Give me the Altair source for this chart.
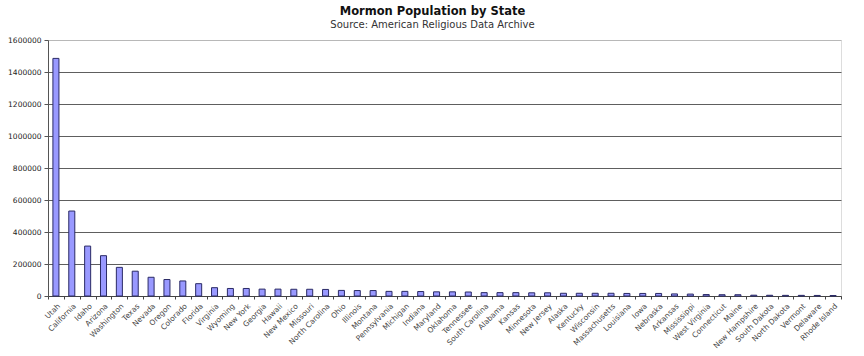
import altair as alt
import pandas as pd

states = ["Utah", "California", "Idaho", "Arizona", "Washington", "Texas", "Nevada", "Oregon",
          "Colorado", "Florida", "Virginia", "Wyoming", "New York", "Georgia", "Hawaii",
          "New Mexico", "Missouri", "North Carolina", "Ohio", "Illinois", "Montana",
          "Pennsylvania", "Michigan", "Indiana", "Maryland", "Oklahoma", "Tennessee",
          "South Carolina", "Alabama", "Kansas", "Minnesota", "New Jersey", "Alaska",
          "Kentucky", "Wisconsin", "Massachusetts", "Louisiana", "Iowa", "Nebraska",
          "Arkansas", "Mississippi", "West Virginia", "Connecticut", "Maine",
          "New Hampshire", "South Dakota", "North Dakota", "Vermont", "Delaware",
          "Rhode Island"]
population = [1485000, 531000, 312000, 252000, 179000, 155000, 117000, 103000,
              94000, 77000, 52000, 47000, 47000, 43000, 43000,
              42000, 42000, 41000, 35000, 34000, 34000,
              29000, 29000, 28000, 26000, 26000, 25000,
              21000, 21000, 21000, 20000, 20000, 17000,
              17000, 17000, 17000, 16000, 16000, 16000,
              13000, 12000, 9000, 8000, 8000,
              5000, 4500, 4000, 4000, 3500,
              3000]

df = pd.DataFrame({"State": states, "Population": population})

chart = alt.Chart(df).mark_bar(
    width={"band": 0.38}, fill="#9999ff", stroke="#2a2a66", strokeWidth=1
).encode(
    x=alt.X("State:N", sort=states, title=None,
            scale=alt.Scale(paddingInner=0, paddingOuter=0),
            axis=alt.Axis(labelAngle=-45, tickBand="extent", tickSize=3,
                          labelPadding=3, labelFontSize=7.5, labelFont="DejaVu Sans",
                          labelColor="#444", domainColor="#444", tickColor="#444",
                          labelOverlap=False, grid=False)),
    y=alt.Y("Population:Q", title=None,
            scale=alt.Scale(domain=[0, 1600000]),
            axis=alt.Axis(values=list(range(0, 1600001, 200000)), format="d",
                          tickSize=4, labelPadding=3, labelFontSize=7.5,
                          labelFont="DejaVu Sans", labelColor="#222",
                          domainColor="#555", tickColor="#555",
                          gridColor={"condition": {"test": "datum.value >= 1600000", "value": "#b8b8b8"},
                                     "value": "#5e5e5e"},
                          gridWidth=1)),
).properties(
    width=793, height=256,
    title=alt.TitleParams(
        "Mormon Population by State",
        subtitle="Source: American Religious Data Archive",
        font="DejaVu Sans", fontSize=11.5, fontWeight="bold", color="#111",
        subtitleFont="DejaVu Sans", subtitleFontSize=10, subtitleColor="#333",
        subtitlePadding=3, offset=6, anchor="middle", dx=-12
    ),
    autosize=alt.AutoSizeParams(type="none"),
    padding={"left": 48, "top": 40, "right": 23, "bottom": 60},
).configure_view(
    stroke="#c0c0c0", strokeWidth=1
).configure(background="white")

chart.save("out.html", embed_options={"renderer": "svg", "actions": False})
